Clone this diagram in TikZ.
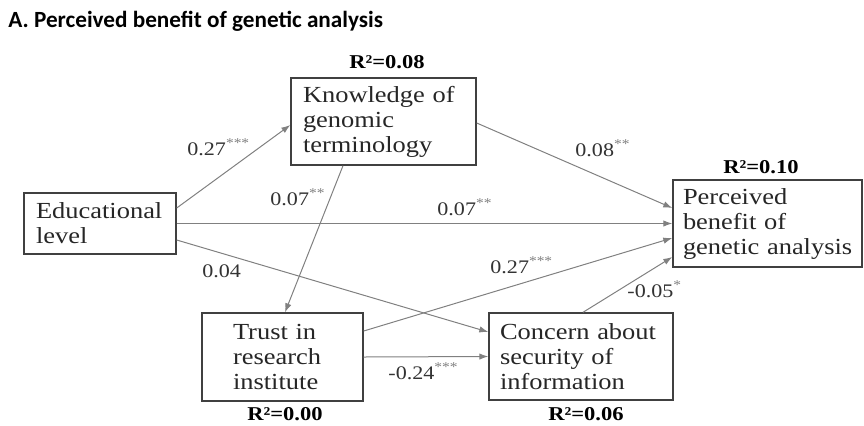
\documentclass[tikz,border=0pt]{standalone}
\usepackage{fontspec}
\setmainfont{Liberation Serif}
\newfontfamily\titlefont{Carlito}
\newfontfamily\boxfont[FakeStretch=1.15]{Liberation Serif}
\usepackage{xcolor}
\usetikzlibrary{arrows.meta,calc}

\newcommand{\stars}[1]{\textsuperscript{\textcolor{black!50}{#1}}}

\begin{document}
\begin{tikzpicture}[x=0.5pt,y=-0.5pt,
  var/.style={draw=black!75,line width=0.7pt,rectangle,align=left,inner ysep=0pt,
    minimum height=43.5pt,text=black!85,font=\boxfont\fontsize{11.5}{12.5}\selectfont},
  link/.style={draw=black!50,line width=0.5pt,-{Latex[length=4.5pt,width=3.2pt]}},
  coef/.style={anchor=base west,inner sep=0pt,text=black!80,font=\boxfont\fontsize{9.6}{10}\selectfont},
  rsq/.style={anchor=base,inner sep=0pt,font=\boxfont\bfseries\fontsize{9.8}{10}\selectfont}]
  \useasboundingbox (0,0) rectangle (864,425);

  \node[anchor=base west,inner sep=0pt,font=\titlefont\bfseries\fontsize{11.6}{13}\selectfont] (title) at (8,27) {A. Perceived benefit of genetic analysis};

  % variables
  \node[var,text width=64pt,inner xsep=6pt,minimum height=30.5pt] (edu) at (100,223.5) {Educational\\level};
  \node[var,text width=80.5pt,inner xsep=6pt] (know) at (383.5,121.5) {Knowledge of\\genomic\\terminology};
  \node[var,text width=84.5pt,inner xsep=5pt] (perc) at (767.5,223.5) {Perceived\\benefit of\\\mbox{genetic analysis}};
  \node[var,text width=49.5pt,inner xsep=15.5pt,minimum height=44pt] (trust) at (282.5,357) {Trust in\\research\\institute};
  \node[var,text width=81pt,inner xsep=5.5pt] (conc) at (581,356.5) {Concern about\\security of\\information};

  % R squared
  \node[rsq] (rknow) at (387,68) {R²=0.08};
  \node[rsq] (rperc) at (761,173) {R²=0.10};
  \node[rsq] (rtrust) at (285,420) {R²=0.00};
  \node[rsq] (rconc) at (586,420) {R²=0.06};

  % paths
  \draw[link] ($(edu.east)+(0,-15.5)$) -- ($(know.west)+(0,3.5)$);
  \draw[link] (edu.east) -- (perc.west);
  \draw[link] ($(edu.east)+(0,16.5)$) -- ($(conc.west)+(0,-24.5)$);
  \draw[link] ($(know.south)+(-40.5,0)$) -- ($(trust.north)+(2.5,0)$);
  \draw[link] ($(know.east)+(0,1.5)$) -- ($(perc.west)+(0,-15.5)$);
  \draw[link] ($(trust.east)+(0,-26)$) -- ($(perc.west)+(0,14.5)$);
  \draw[link] (trust.east) -- (conc.west);
  \draw[link] ($(conc.north)+(2,0)$) -- ($(perc.west)+(0,33.5)$);

  % coefficients
  \node[coef] (c1) at (187,155) {0.27\stars{***}};
  \node[coef] (c2) at (270,205) {0.07\stars{**}};
  \node[coef] (c3) at (437,215) {0.07\stars{**}};
  \node[coef] (c4) at (575,156) {0.08\stars{**}};
  \node[coef] (c5) at (202,277) {0.04};
  \node[coef] (c6) at (490,273) {0.27\stars{***}};
  \node[coef] (c7) at (627,297) {-0.05\stars{*}};
  \node[coef] (c8) at (388,379) {-0.24\stars{***}};
\end{tikzpicture}
\end{document}
